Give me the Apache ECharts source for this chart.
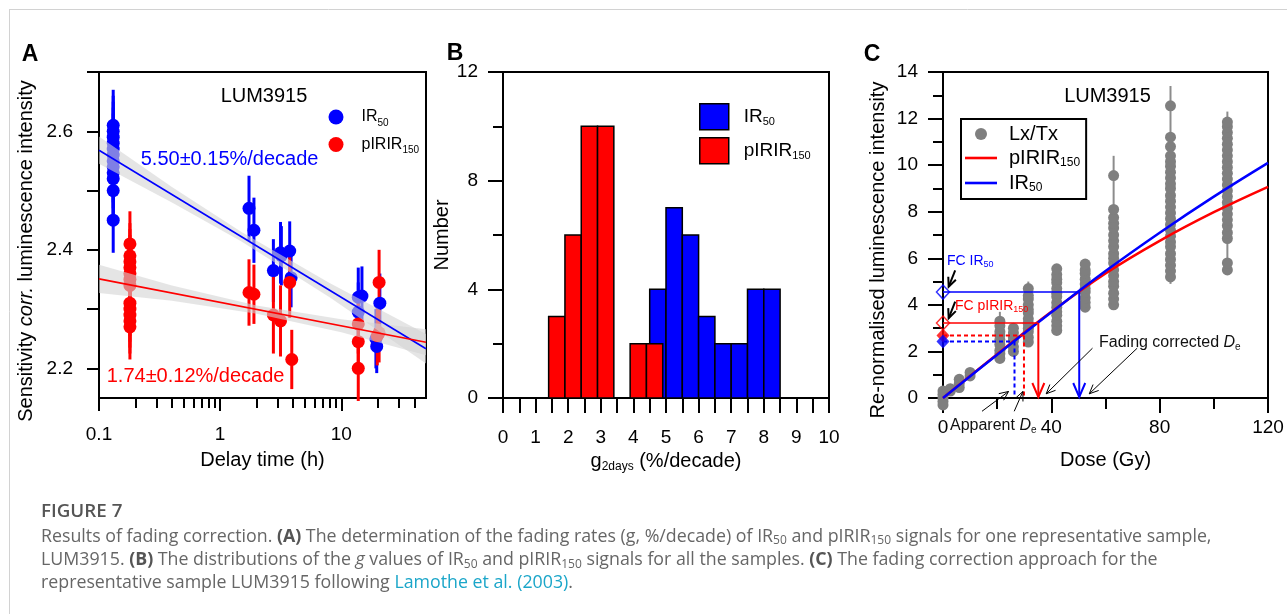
<!DOCTYPE html>
<html><head><meta charset="utf-8">
<script src="https://cdn.jsdelivr.net/npm/echarts@6/dist/echarts.min.js"></script>
<style>html,body{margin:0;padding:0;background:#fff}#c{width:1287px;height:614px}</style>
</head><body><div id="c"></div>
<script>
// ================= DATA =================
// Panel A: [delay time (h), sensitivity-corrected intensity, error]
const irA = [[0.131,2.61,0.06],[0.131,2.60,0.06],[0.131,2.59,0.06],[0.131,2.58,0.06],[0.131,2.57,0.06],[0.131,2.56,0.06],
  [0.131,2.55,0.06],[0.131,2.54,0.06],[0.131,2.53,0.06],[0.131,2.52,0.06],[0.131,2.50,0.06],[0.131,2.45,0.055],
  [1.73,2.47,0.055],[1.9,2.433,0.055],[2.75,2.365,0.053],[3.15,2.395,0.052],[3.2,2.39,0.05],[3.75,2.398,0.05],[3.85,2.353,0.05],
  [13.8,2.32,0.05],[13.8,2.295,0.05],[14.8,2.322,0.05],[19.3,2.25,0.05],[19.6,2.237,0.045],[20.8,2.31,0.05]];
const pirA = [[0.18,2.41,0.055],[0.18,2.39,0.055],[0.18,2.38,0.055],[0.18,2.37,0.055],[0.18,2.36,0.055],[0.18,2.35,0.055],
  [0.18,2.34,0.055],[0.18,2.31,0.055],[0.18,2.30,0.055],[0.18,2.29,0.055],[0.18,2.28,0.055],[0.18,2.27,0.055],
  [1.73,2.328,0.056],[1.9,2.325,0.05],[2.75,2.29,0.065],[3.15,2.28,0.06],[3.75,2.345,0.06],[3.9,2.215,0.05],
  [13.8,2.275,0.05],[13.8,2.245,0.05],[13.8,2.20,0.055],[20.5,2.345,0.055],[20.5,2.26,0.05],[19.8,2.255,0.05]];
const irFitA = [[0.1,2.568],[50,2.233]];
const pirFitA = [[0.1,2.351],[50,2.244]];
const irBandT = [0.1,0.4,1.5,8,50];
const irBandLo = [2.545,2.480,2.414,2.320,2.208];
const irBandHi = [2.591,2.506,2.430,2.344,2.258];
const pirBandT = [0.1,0.4,2,10,50];
const pirBandLo = [2.327,2.314,2.292,2.261,2.222];
const pirBandHi = [2.375,2.340,2.306,2.283,2.266];
const aXMajor = [0.1,1,10];
const aXMinor = [0.2,0.3,0.4,0.5,0.6,0.7,0.8,0.9,2,3,4,5,6,7,8,9,20,30,40];
const aYTicks = [2.2,2.3,2.4,2.5,2.6,2.7];
const aYLabels = [2.2,2.4,2.6];
const rateIR = '5.50±0.15%/decade';
const ratePIR = '1.74±0.12%/decade';

// Panel B: histogram of g2days (bin left edge, count), bin width 0.5
const binWidth = 0.5;
const pirBinStart = [1.4,1.9,2.4,2.9,3.9,4.4];
const pirCounts   = [3,6,10,10,2,2];
const irBinStart  = [4.5,5.0,5.5,6.0,6.5,7.0,7.5,8.0];
const irCounts    = [4,7,6,3,2,2,4,4];

// Panel C: Lx/Tx dose response
const lxDoses = [0,2.7,6,10,21,26,31.5,42,52.5,63,84,105];
const lxValues = [
  [0.3,0.15,0.0,-0.15,-0.3],
  [0.3,0.4],
  [0.45,0.62,0.8],
  [0.95,1.1],
  [1.7,1.9,2.05,2.3,2.5,2.7,2.85,3.1,3.3],
  [2.0,2.2,2.45,2.6,2.8,3.0],
  [2.4,2.6,2.85,3.0,3.2,3.4,3.65,3.8,4.0,4.25,4.4,4.7],
  [2.9,3.1,3.3,3.55,3.7,3.9,4.1,4.35,4.5,4.7,4.95,5.1,5.3,5.55],
  [3.9,4.1,4.3,4.55,4.7,4.9,5.1,5.35,5.5,5.75],
  [4.0,4.25,4.5,4.8,5.0,5.25,5.5,5.8,6.0,6.2,6.5,6.75,7.0,7.3,7.5,7.75,8.1,9.55],
  [5.2,5.45,5.7,5.95,6.2,6.5,6.7,6.95,7.2,7.45,7.7,7.95,8.2,8.45,8.7,9.0,9.2,9.45,9.7,9.95,10.15,10.4,10.8,11.2,12.55],
  [5.5,5.8,6.85,7.1,7.4,7.65,7.9,8.15,8.4,8.65,8.9,9.15,9.4,9.65,9.9,10.15,10.4,10.65,10.9,11.15,11.4,11.65,11.85]
];
const lxWhisker = [[0,-0.45,0.45],[21,1.5,3.7],[26,1.8,3.2],[31.5,2.2,5.0],[42,2.7,5.75],[52.5,3.7,5.95],[63,3.9,10.4],[84,4.9,13.4],[105,5.3,12.3]];
const pirCurve = [[0,0],[20,1.88],[40,3.7],[60,5.35],[80,6.75],[100,7.98],[120,9.07]];
const irCurve  = [[0,0],[20,1.86],[40,3.68],[60,5.45],[80,7.1],[100,8.65],[120,10.1]];
const fcIR50  = [50.3, 4.55];   // [fading-corrected De, corrected Lx/Tx]
const fcPIR   = [35.2, 3.22];
const appIR50 = [26.4, 2.43];   // [apparent De, natural Lx/Tx]
const appPIR  = [29.9, 2.68];
const fcArrows   = [[4.5,5.48,2.1,4.78],[4.5,4.14,2.1,3.43]];
const noteArrows = [[55.2,2.14,38.1,0.18],[71.7,2.14,54.0,0.18],[14.4,-0.57,24.2,0.28],[26.3,-0.57,29.5,0.28]];

// ================= CHART =================
const FF = '"Liberation Sans", Arial, sans-serif';
const BLUE = '#0000ff', RED = '#ff0000', GRAY = '#7f7f7f';
const chart = echarts.init(document.getElementById('c'));

function axLine(show){ return {show:show, onZero:false, lineStyle:{color:'#000', width:2}}; }
function axTick(len, extra){ return Object.assign({show:true, inside:false, length:len, lineStyle:{color:'#000', width:2}}, extra||{}); }
const nameStyle = {color:'#000', fontSize:20, fontFamily:FF};
const subRich = {
  n:{fontSize:20, fontFamily:FF, color:'#000', lineHeight:22},
  i:{fontSize:20, fontFamily:FF, color:'#000', fontStyle:'italic', lineHeight:22},
  s:{fontSize:12, fontFamily:FF, color:'#000', lineHeight:12, verticalAlign:'bottom'}
};

function errRender(color, w){ return function(params, api){
  const x = api.value(0), y = api.value(1), e = api.value(2);
  const a = api.coord([x, y + e]), b = api.coord([x, y - e]);
  return {type:'line', shape:{x1:a[0], y1:a[1], x2:b[0], y2:b[1]}, style:{stroke:color, lineWidth:w}};
};}
function bandRender(T, LO, HI, fill){ return function(params, api){
  if (params.dataIndex !== 0) return null;
  const pts = [];
  for (let i = 0; i < T.length; i++) pts.push(api.coord([T[i], HI[i]]));
  for (let i = T.length - 1; i >= 0; i--) pts.push(api.coord([T[i], LO[i]]));
  return {type:'polygon', shape:{points:pts}, style:{fill:fill}};
};}
function barRender(color){ return function(params, api){
  const x0 = api.value(0), n = api.value(1);
  const a = api.coord([x0, n]), b = api.coord([x0 + binWidth, 0]);
  return {type:'rect', shape:{x:a[0], y:a[1], width:b[0]-a[0], height:b[1]-a[1]}, style:{fill:color, stroke:'#000', lineWidth:1.5}};
};}
function whiskRender(params, api){
  const a = api.coord([api.value(0), api.value(2)]), b = api.coord([api.value(0), api.value(1)]);
  return {type:'line', shape:{x1:a[0], y1:a[1], x2:b[0], y2:b[1]}, style:{stroke:'#8c8c8c', lineWidth:2}};
}
function dropRender(color, dashed, arrow){ return function(params, api){
  const de = api.value(0), lv = api.value(1);
  const p0 = api.coord([0, lv]), p1 = api.coord([de, lv]), p2 = api.coord([de, 0]);
  const dash = dashed ? [4,3] : null;
  const ch = [
    {type:'line', shape:{x1:p0[0], y1:p0[1], x2:p1[0], y2:p1[1]}, style:{stroke:color, lineWidth:dashed?2:1.5, lineDash:dash}},
    {type:'line', shape:{x1:p1[0], y1:p1[1], x2:p2[0], y2:p2[1]-1}, style:{stroke:color, lineWidth:2, lineDash:dash}}
  ];
  if (arrow) ch.push({type:'polyline', shape:{points:[[p2[0]-6, p2[1]-15],[p2[0], p2[1]-1],[p2[0]+6, p2[1]-15]]}, style:{stroke:color, lineWidth:2, fill:null}});
  return {type:'group', children:ch};
};}
function arrowRender(w){ return function(params, api){
  const a = api.coord([api.value(0), api.value(1)]), b = api.coord([api.value(2), api.value(3)]);
  const ang = Math.atan2(b[1]-a[1], b[0]-a[0]), L = 10, W = 0.42;
  const h1 = [b[0]-L*Math.cos(ang-W), b[1]-L*Math.sin(ang-W)];
  const h2 = [b[0]-L*Math.cos(ang+W), b[1]-L*Math.sin(ang+W)];
  return {type:'group', children:[
    {type:'line', shape:{x1:a[0], y1:a[1], x2:b[0], y2:b[1]}, style:{stroke:'#000', lineWidth:w}},
    {type:'polyline', shape:{points:[h1, b, h2]}, style:{stroke:'#000', lineWidth:w, fill:null}}
  ]};
};}

const lxPoints = [];
lxDoses.forEach((d, i) => lxValues[i].forEach(v => lxPoints.push([d, v])));

const legendNames = {
  'IR50 (A)':'{m|IR}{s|50}', 'pIRIR150 (A)':'{m|pIRIR}{s|150}',
  'IR50 (B)':'{m|IR}{s|50}', 'pIRIR150 (B)':'{m|pIRIR}{s|150}',
  'Lx/Tx':'{m|Lx/Tx}', 'pIRIR150 fit':'{m|pIRIR}{s|150}', 'IR50 fit':'{m|IR}{s|50}'
};
function legRich(fs, ss){ return {
  m:{fontSize:fs, fontFamily:FF, color:'#000', lineHeight:22},
  s:{fontSize:ss, fontFamily:FF, color:'#000', lineHeight:ss, verticalAlign:'bottom'}
};}
function singleLegend(name, left, top, w, h, padLeft, fs, ss, extraItem){
  return {data:[Object.assign({name:name}, extraItem||{})], left:left, top:top, padding:0, itemWidth:w, itemHeight:h,
    selectedMode:false, formatter:n => legendNames[n],
    textStyle:{padding:[0,0,0,padLeft], rich:legRich(fs, ss)}};
}
const lineIcon = 'path://M0,0 L32,0 L32,2.6 L0,2.6 Z';

const option = {
  animation:false,
  textStyle:{fontFamily:FF},
  grid:[
    {left:99, top:72, width:327, height:326, show:true, borderColor:'#000', borderWidth:2, backgroundColor:'transparent'},
    {left:503, top:72, width:326, height:326, show:true, borderColor:'#000', borderWidth:2, backgroundColor:'transparent'},
    {left:943, top:72, width:325, height:326, show:true, borderColor:'#000', borderWidth:2, backgroundColor:'transparent'}
  ],
  xAxis:[
    {type:'log', logBase:10, gridIndex:0, min:0.1, max:50, position:'bottom', axisLine:axLine(true),
     axisTick:axTick(13, {customValues:aXMajor}),
     axisLabel:{customValues:aXMajor, color:'#000', fontSize:19, fontFamily:FF, margin:27, formatter:v => String(v)},
     splitLine:{show:false}, name:'Delay time (h)', nameLocation:'middle', nameGap:52, nameTextStyle:nameStyle},
    {type:'log', logBase:10, gridIndex:0, min:0.1, max:50, position:'bottom', axisLine:axLine(false),
     axisTick:axTick(10, {customValues:aXMinor}), axisLabel:{show:false}, splitLine:{show:false}},
    {type:'value', gridIndex:1, min:0, max:10, interval:0.5, position:'bottom', axisLine:axLine(true),
     axisTick:axTick(15), axisLabel:{color:'#000', fontSize:19, fontFamily:FF, margin:30, interval:0,
       formatter:v => (Math.abs(v - Math.round(v)) < 1e-6 ? String(Math.round(v)) : '')},
     splitLine:{show:false}, name:'{n|g}{s|2days}{n| (%/decade)}', nameLocation:'middle', nameGap:52,
     nameTextStyle:{rich:subRich}},
    {type:'value', gridIndex:2, min:0, max:120, interval:40, position:'bottom', axisLine:axLine(true),
     axisTick:axTick(15), axisLabel:{color:'#000', fontSize:19, fontFamily:FF, margin:20},
     splitLine:{show:false}, name:'Dose (Gy)', nameLocation:'middle', nameGap:52, nameTextStyle:nameStyle},
    {type:'value', gridIndex:2, min:0, max:120, interval:20, position:'bottom', axisLine:axLine(false),
     axisTick:axTick(11), axisLabel:{show:false}, splitLine:{show:false}}
  ],
  yAxis:[
    {type:'value', gridIndex:0, min:2.15, max:2.7, position:'left', axisLine:axLine(true),
     axisTick:axTick(12, {customValues:aYTicks}),
     axisLabel:{customValues:aYLabels, color:'#000', fontSize:19, fontFamily:FF, margin:26, formatter:v => v.toFixed(1)},
     splitLine:{show:false}, name:'{n|Sensitivity }{i|corr.}{n| luminescence intensity}', nameLocation:'middle', nameGap:62,
     nameTextStyle:{rich:subRich, padding:[0,32,0,0]}},
    {type:'value', gridIndex:1, min:0, max:12, interval:4, position:'left', axisLine:axLine(true),
     axisTick:axTick(15), axisLabel:{color:'#000', fontSize:19, fontFamily:FF, margin:25},
     splitLine:{show:false}, name:'Number', nameLocation:'middle', nameGap:42, nameTextStyle:nameStyle},
    {type:'value', gridIndex:1, min:0, max:12, interval:2, position:'left', axisLine:axLine(false),
     axisTick:axTick(10), axisLabel:{show:false}, splitLine:{show:false}},
    {type:'value', gridIndex:2, min:0, max:14, interval:2, position:'left', axisLine:axLine(true),
     axisTick:axTick(15), axisLabel:{color:'#000', fontSize:19, fontFamily:FF, margin:25},
     splitLine:{show:false}, name:'Re-normalised luminescence intensity', nameLocation:'middle', nameGap:55,
     nameTextStyle:Object.assign({padding:[0,30,0,0]}, nameStyle)},
    {type:'value', gridIndex:2, min:0, max:14, interval:1, position:'left', axisLine:axLine(false),
     axisTick:axTick(10), axisLabel:{show:false}, splitLine:{show:false}}
  ],
  legend:[
    singleLegend('IR50 (A)', 328.5, 109, 15, 15, 13, 16, 10),
    singleLegend('pIRIR150 (A)', 328.5, 136.5, 15, 15, 13, 16, 10),
    singleLegend('IR50 (B)', 699, 103, 29, 26, 10, 19, 11, {icon:'rect', itemStyle:{borderColor:'#000', borderWidth:1.5}}),
    singleLegend('pIRIR150 (B)', 699, 137, 29, 26, 10, 19, 11, {icon:'rect', itemStyle:{borderColor:'#000', borderWidth:1.5}}),
    {data:[{name:'Lx/Tx'}, {name:'pIRIR150 fit', icon:lineIcon, itemStyle:{color:RED}}, {name:'IR50 fit', icon:lineIcon, itemStyle:{color:BLUE}}],
     orient:'vertical', left:961, top:119, padding:[5,6,5,4],
     itemGap:4, itemWidth:32, itemHeight:12, borderColor:'#000', borderWidth:2, selectedMode:false,
     formatter:n => legendNames[n], textStyle:{padding:[0,0,0,7], rich:legRich(20, 12)}}
  ],
  series:[
    // ---- Panel A
    {type:'custom', name:'IR50 err', xAxisIndex:0, yAxisIndex:0, data:irA, encode:{x:0, y:1}, renderItem:errRender(BLUE, 3), z:2, silent:true},
    {type:'custom', name:'pIRIR150 err', xAxisIndex:0, yAxisIndex:0, data:pirA, encode:{x:0, y:1}, renderItem:errRender(RED, 3), z:2, silent:true},
    {type:'scatter', name:'IR50 (A)', xAxisIndex:0, yAxisIndex:0, data:irA.map(d => [d[0], d[1]]), symbol:'circle', symbolSize:13,
     itemStyle:{color:BLUE, opacity:1}, z:3, clip:false},
    {type:'scatter', name:'pIRIR150 (A)', xAxisIndex:0, yAxisIndex:0, data:pirA.map(d => [d[0], d[1]]), symbol:'circle', symbolSize:13,
     itemStyle:{color:RED, opacity:1}, z:3, clip:false},
    {type:'custom', name:'IR50 band', xAxisIndex:0, yAxisIndex:0, data:irBandT.map((t,i) => [t, irBandLo[i], irBandHi[i]]), encode:{x:0, y:[1,2]},
     renderItem:bandRender(irBandT, irBandLo, irBandHi, 'rgba(212,212,212,0.6)'), z:4, silent:true},
    {type:'custom', name:'pIRIR150 band', xAxisIndex:0, yAxisIndex:0, data:pirBandT.map((t,i) => [t, pirBandLo[i], pirBandHi[i]]), encode:{x:0, y:[1,2]},
     renderItem:bandRender(pirBandT, pirBandLo, pirBandHi, 'rgba(212,212,212,0.6)'), z:4, silent:true},
    {type:'line', name:'IR50 fit A', xAxisIndex:0, yAxisIndex:0, data:irFitA, symbol:'none', lineStyle:{color:BLUE, width:1.6}, z:5, silent:true},
    {type:'line', name:'pIRIR150 fit A', xAxisIndex:0, yAxisIndex:0, data:pirFitA, symbol:'none', lineStyle:{color:RED, width:1.6}, z:5, silent:true},
    // ---- Panel B
    {type:'custom', name:'IR50 (B)', xAxisIndex:2, yAxisIndex:1, data:irBinStart.map((s,i) => [s, irCounts[i]]), encode:{x:0, y:1},
     renderItem:barRender(BLUE), itemStyle:{color:BLUE}, z:2},
    {type:'custom', name:'pIRIR150 (B)', xAxisIndex:2, yAxisIndex:1, data:pirBinStart.map((s,i) => [s, pirCounts[i]]), encode:{x:0, y:1},
     renderItem:barRender(RED), itemStyle:{color:RED}, z:3},
    // ---- Panel C
    {type:'custom', name:'Lx/Tx err', xAxisIndex:3, yAxisIndex:3, data:lxWhisker, encode:{x:0, y:[1,2]}, renderItem:whiskRender, z:2, silent:true},
    {type:'scatter', name:'Lx/Tx', xAxisIndex:3, yAxisIndex:3, data:lxPoints, symbol:'circle', symbolSize:11,
     itemStyle:{color:GRAY, opacity:1}, z:3, clip:false},
    {type:'line', name:'pIRIR150 fit', xAxisIndex:3, yAxisIndex:3, data:pirCurve, smooth:0.4, symbol:'none', showSymbol:false, lineStyle:{color:RED, width:2.5}, itemStyle:{color:RED}, z:4},
    {type:'line', name:'IR50 fit', xAxisIndex:3, yAxisIndex:3, data:irCurve, smooth:0.4, symbol:'none', showSymbol:false, lineStyle:{color:BLUE, width:2.5}, itemStyle:{color:BLUE}, z:5},
    {type:'custom', name:'FC IR50 De', xAxisIndex:3, yAxisIndex:3, data:[fcIR50], encode:{x:0, y:1}, renderItem:dropRender(BLUE, false, true), z:6, silent:true},
    {type:'custom', name:'FC pIRIR150 De', xAxisIndex:3, yAxisIndex:3, data:[fcPIR], encode:{x:0, y:1}, renderItem:dropRender(RED, false, true), z:6, silent:true},
    {type:'custom', name:'App pIRIR150 De', xAxisIndex:3, yAxisIndex:3, data:[appPIR], encode:{x:0, y:1}, renderItem:dropRender(RED, true, false), z:6, silent:true},
    {type:'custom', name:'App IR50 De', xAxisIndex:3, yAxisIndex:3, data:[appIR50], encode:{x:0, y:1}, renderItem:dropRender(BLUE, true, false), z:6, silent:true},
    {type:'scatter', name:'FC IR50 pt', xAxisIndex:3, yAxisIndex:3, data:[[0, fcIR50[1]]], symbol:'diamond', symbolSize:[13,14],
     itemStyle:{color:'rgba(255,255,255,0)', borderColor:BLUE, borderWidth:1.5}, z:7, clip:false, silent:true},
    {type:'scatter', name:'FC pIRIR150 pt', xAxisIndex:3, yAxisIndex:3, data:[[0, fcPIR[1]]], symbol:'diamond', symbolSize:[13,14],
     itemStyle:{color:'rgba(255,255,255,0)', borderColor:RED, borderWidth:1.5}, z:7, clip:false, silent:true},
    {type:'scatter', name:'App pIRIR150 pt', xAxisIndex:3, yAxisIndex:3, data:[[0, appPIR[1]]], symbol:'diamond', symbolSize:[13,14],
     itemStyle:{color:RED}, z:7, clip:false, silent:true},
    {type:'scatter', name:'App IR50 pt', xAxisIndex:3, yAxisIndex:3, data:[[0, appIR50[1]]], symbol:'diamond', symbolSize:[13,14],
     itemStyle:{color:BLUE}, z:7, clip:false, silent:true},
    {type:'custom', name:'FC arrows', xAxisIndex:3, yAxisIndex:3, data:fcArrows, encode:{x:[0,2], y:[1,3]}, renderItem:arrowRender(2), z:8, silent:true},
    {type:'custom', name:'note arrows', xAxisIndex:3, yAxisIndex:3, data:noteArrows, encode:{x:[0,2], y:[1,3]}, renderItem:arrowRender(1), z:8, silent:true}
  ],
  graphic:[]
};

function txt(x, y, text, font, fill, align, rich){
  return {type:'text', x:x, y:y, silent:true, z:100, style:{text:text, font:font, fill:fill,
    textAlign:align||'left', align:align||'left', textVerticalAlign:'middle', verticalAlign:'middle', rich:rich||undefined}};
}
const F20 = '20px ' + FF, F16 = '16px ' + FF;
function annRich(color, fs){ return {
  m:{font:fs + 'px ' + FF, fill:color, lineHeight:fs+2},
  i:{font:'italic ' + fs + 'px ' + FF, fill:color, lineHeight:fs+2},
  s:{font:Math.round(fs*0.62) + 'px ' + FF, fill:color, lineHeight:Math.round(fs*0.62), verticalAlign:'bottom'}
};}
const CAPF = '"Open Sans", Lato, sans-serif';
const CAP = '17.8px ' + CAPF;
const capRich = {
  m:{font:CAP, fill:'#666', lineHeight:21},
  b:{font:'bold ' + CAP, fill:'#555', lineHeight:21},
  i:{font:'italic ' + CAP, fill:'#666', lineHeight:21},
  s:{font:'12px ' + CAPF, fill:'#666', lineHeight:12, verticalAlign:'bottom'},
  l:{font:CAP, fill:'#1ba6c9', lineHeight:21}
};
option.graphic = [
  {type:'line', silent:true, shape:{x1:9, y1:9.5, x2:1287, y2:9.5}, style:{stroke:'#d2d2d2', lineWidth:1}},
  {type:'line', silent:true, shape:{x1:9.5, y1:9, x2:9.5, y2:614}, style:{stroke:'#d2d2d2', lineWidth:1}},
  txt(30, 55, 'A', 'bold 23px ' + FF, '#000', 'center'),
  txt(455, 54, 'B', 'bold 23px ' + FF, '#000', 'center'),
  txt(872, 55, 'C', 'bold 23px ' + FF, '#000', 'center'),
  txt(264, 96, 'LUM3915', F20, '#000', 'center'),
  txt(1107.5, 96, 'LUM3915', F20, '#000', 'center'),
  txt(140.7, 159, rateIR, F20, BLUE, 'left'),
  txt(106.7, 376, ratePIR, F20, RED, 'left'),
  txt(947, 261, '{m|FC IR}{s|50}', '14px ' + FF, BLUE, 'left', annRich(BLUE, 14)),
  txt(955, 306, '{m|FC pIRIR}{s|150}', '14px ' + FF, RED, 'left', annRich(RED, 14)),
  txt(1099, 343, '{m|Fading corrected }{i|D}{s|e}', F16, '#111', 'left', annRich('#111', 16)),
  txt(950, 426, '{m|Apparent }{i|D}{s|e}', F16, '#111', 'left', annRich('#111', 16)),
  txt(41, 512, 'FIGURE 7', '600 18.8px ' + CAPF, '#555', 'left'),
  txt(41, 536.5, '{m|Results of fading correction. }{b|(A)}{m| The determination of the fading rates (g, %/decade) of IR}{s|50}{m| and pIRIR}{s|150}{m| signals for one representative sample,}', CAP, '#666', 'left', capRich),
  txt(41, 560, '{m|LUM3915. }{b|(B)}{m| The distributions of the }{i|g}{m| values of IR}{s|50}{m| and pIRIR}{s|150}{m| signals for all the samples. }{b|(C)}{m| The fading correction approach for the}', CAP, '#666', 'left', capRich),
  txt(41, 583, '{m|representative sample LUM3915 following }{l|Lamothe et al. (2003)}{m|.}', CAP, '#666', 'left', capRich)
];
chart.setOption(option);
</script></body></html>
